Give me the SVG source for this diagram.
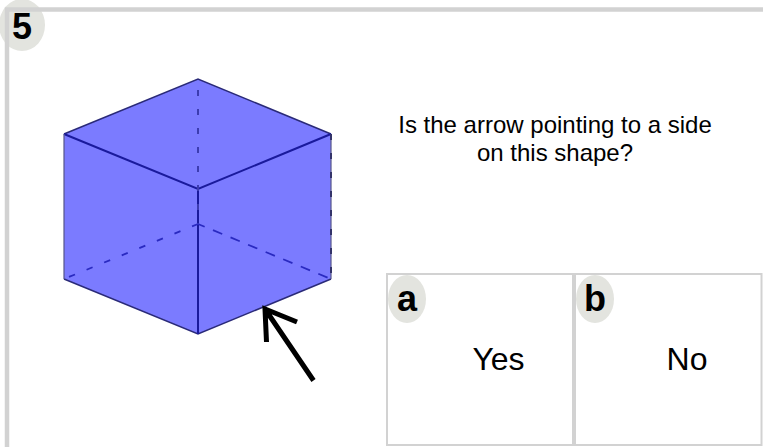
<svg xmlns="http://www.w3.org/2000/svg" width="763" height="447" viewBox="0 0 763 447">
<style>
.frame{fill:none;stroke:#d2d2d2;stroke-width:4.5}
.box{fill:#fff;stroke:#d2d2d2;stroke-width:2}
.badge{fill:#e3e4df}
.t{font-family:"Liberation Sans",Arial,sans-serif;fill:#000}
.b{font-size:36px;font-weight:bold}
.edge{stroke:#1a1a9c;stroke-width:2;fill:none}
.outer{stroke:#2a2a78;stroke-width:1.5;fill:none}
.grey{stroke:#55558a;stroke-width:1.2;fill:none}
.dash{stroke:#2a2ac0;stroke-width:1.8;fill:none}
.vdash{stroke:#3c3cb0;stroke-width:2;fill:none;stroke-dasharray:6 13;stroke-dashoffset:8}
.rdash{stroke:#33336a;stroke-width:2;fill:none;stroke-dasharray:6 13}
.arrow{stroke:#000;stroke-width:5;fill:none}
.q{font-size:24px;text-anchor:middle}
.v{font-size:32px;text-anchor:middle}
</style>
<rect width="763" height="447" fill="#fff"/>
<g id="frame">
<ellipse class="badge" cx="22" cy="25" rx="23" ry="26"/>
<path class="frame" d="M7 447V9.500H763"/>
<text class="t b" x="12" y="39">5</text>
</g>
<g id="cube">
<polygon points="198,79 331,134 331,279 198,334 64,279 64,134" fill="#7b7bff"/>
<path class="outer" d="M64 134L198 79L331 134M64 279L198 334L331 279"/>
<path class="edge" d="M64 134L198 189L331 134M198 189V334"/>
<path class="grey" d="M64 134V279M331 134V279"/>
<path class="vdash" d="M198 79V224"/>
<path class="dash" stroke-dasharray="6.500 12.500" stroke-dashoffset="13.600" d="M64 279L198 224"/>
<path class="dash" stroke-dasharray="10 9" stroke-dashoffset="2.800" d="M198 224L331 279"/>
<path class="rdash" d="M331 134V279"/>
</g>
<g id="arrow">
<path class="arrow" d="M313.500 380.500L265 309M266.500 342L265 309L297 322"/>
</g>
<g id="question">
<text class="t q" x="555" y="133">Is the arrow pointing to a side</text>
<text class="t q" x="555" y="161">on this shape?</text>
</g>
<g id="option-a">
<rect class="box" x="387" y="274" width="186" height="171"/>
<ellipse class="badge" cx="407" cy="299" rx="19" ry="24"/>
<text class="t b" x="397" y="311">a</text>
<text class="t v" x="498.500" y="370">Yes</text>
</g>
<g id="option-b">
<rect class="box" x="575" y="274" width="186.500" height="171"/>
<ellipse class="badge" cx="595" cy="299" rx="19" ry="24"/>
<text class="t b" x="584" y="311">b</text>
<text class="t v" x="687" y="370">No</text>
</g>
</svg>
